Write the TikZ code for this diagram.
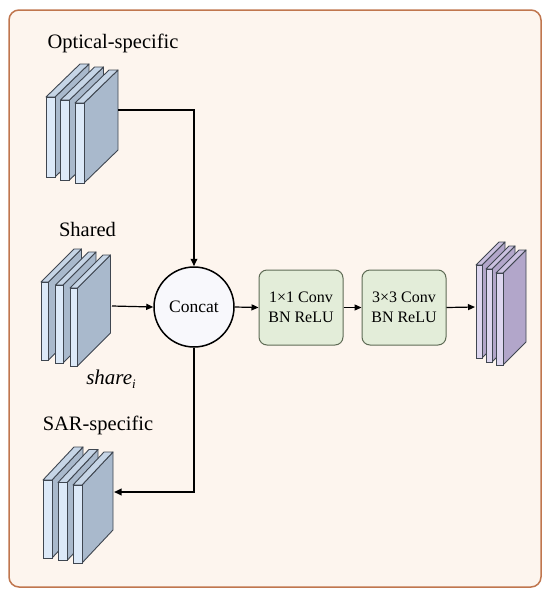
\documentclass[tikz,border=0pt]{standalone}
\usepackage{fontspec}
\setmainfont{Liberation Serif}
\usetikzlibrary{arrows.meta}
\definecolor{framec}{HTML}{C0764E}
\definecolor{bgc}{HTML}{FDF5EE}
\definecolor{bfront}{HTML}{DCE9F8}
\definecolor{bside}{HTML}{A9B9CC}
\definecolor{btop}{HTML}{C6D5E6}
\definecolor{pfront}{HTML}{DDD6EF}
\definecolor{pside}{HTML}{B2A6CA}
\definecolor{ptop}{HTML}{CBC1E0}
\definecolor{gfill}{HTML}{E3EDD9}
\definecolor{gedge}{HTML}{5E6B55}
\definecolor{cfill}{HTML}{F8F8FC}
\definecolor{slabedge}{HTML}{3F4650}
% #1 x, #2 y (front top-left), #3 w, #4 h, #5 dx, #6 dy, #7 front, #8 side, #9 top
\newcommand{\myslab}[9]{%
  \filldraw[fill=#8,draw=slabedge,line width=0.9pt,line join=round]
    (#1+#3,#2) -- ++(#5,-#6) -- ++(0,#4) -- (#1+#3,#2+#4) -- cycle;
  \filldraw[fill=#9,draw=slabedge,line width=0.9pt,line join=round]
    (#1,#2) -- ++(#5,-#6) -- ++(#3,0) -- (#1+#3,#2) -- cycle;
  \filldraw[fill=#7,draw=slabedge,line width=0.9pt]
    (#1,#2) rectangle ++(#3,#4);
}
\tikzset{
  lbl/.style={font=\fontsize{20.5}{24}\selectfont,inner sep=0pt},
  opbox/.style={draw=gedge,fill=gfill,line width=1pt,rounded corners=8pt,
    minimum width=84pt,minimum height=75pt,align=center,inner sep=0pt,
    font=\fontsize{16}{20}\selectfont},
  conn/.style={line width=1.8pt,-{Triangle[length=7.5pt,width=6.5pt]}},
  thin/.style={line width=1.2pt,-{Triangle[length=7pt,width=6pt]}}
}
\begin{document}
\begin{tikzpicture}[x=1pt,y=-1pt]
\useasboundingbox (0,0) rectangle (550,598);
\filldraw[fill=bgc,draw=framec,line width=1.5pt,rounded corners=10pt] (9,10) rectangle (541,587);

% labels
\node[lbl] (toptxt) at (113,43) {Optical-specific};
\node[lbl] (shtxt) at (87.5,229) {Shared};
\node[lbl] (sartxt) at (98,425) {SAR-specific};
\node[font=\fontsize{21}{24}\selectfont,inner sep=0pt] (shi) at (111,379)
  {\textit{share}\raisebox{-4pt}{\fontsize{13}{13}\selectfont\textit{i}}};

% optical stack
\myslab{46}{97}{9}{80}{34}{33}{bfront}{bside}{btop}
\myslab{60.5}{100}{9}{80}{34}{33}{bfront}{bside}{btop}
\myslab{75}{103}{9}{80}{34}{33}{bfront}{bside}{btop}
\coordinate (opt) at (118,110);

% shared stack
\myslab{41}{282}{7.5}{78}{33}{33}{bfront}{bside}{btop}
\myslab{55.5}{285}{7.5}{78}{33}{33}{bfront}{bside}{btop}
\myslab{70}{288}{7.5}{78}{33}{33}{bfront}{bside}{btop}
\coordinate (sh) at (112,306);

% SAR stack
\myslab{43}{480}{9}{78}{31}{33}{bfront}{bside}{btop}
\myslab{58}{482.5}{9}{78}{31}{33}{bfront}{bside}{btop}
\myslab{73}{485}{9}{78}{31}{33}{bfront}{bside}{btop}
\coordinate (sar) at (114,492);

% output stack
\myslab{476}{265}{6}{93}{23}{23}{pfront}{pside}{ptop}
\myslab{486}{269}{6}{93}{23}{23}{pfront}{pside}{ptop}
\myslab{496}{273}{7}{92}{23}{23}{pfront}{pside}{ptop}
\coordinate (outst) at (475,307);

% concat and boxes
\node[circle,draw=black,fill=cfill,line width=1.5pt,minimum size=80pt,inner sep=0pt,
  font=\fontsize{17.5}{20}\selectfont] (cat) at (194,307) {Concat};
\node[opbox] (b1) at (301,307.5) {1×1 Conv\\BN ReLU};
\node[opbox] (b2) at (404,307.5) {3×3 Conv\\BN ReLU};

% connectors
\draw[conn] (opt) -| (cat.north);
\draw[thin] (sh) -- (cat.west);
\draw[conn] (cat.south) |- (sar);
\draw[thin] (cat.east) -- (b1.west);
\draw[thin] (b1.east) -- (b2.west);
\draw[thin] (b2.east) -- (outst);
\end{tikzpicture}
\end{document}
